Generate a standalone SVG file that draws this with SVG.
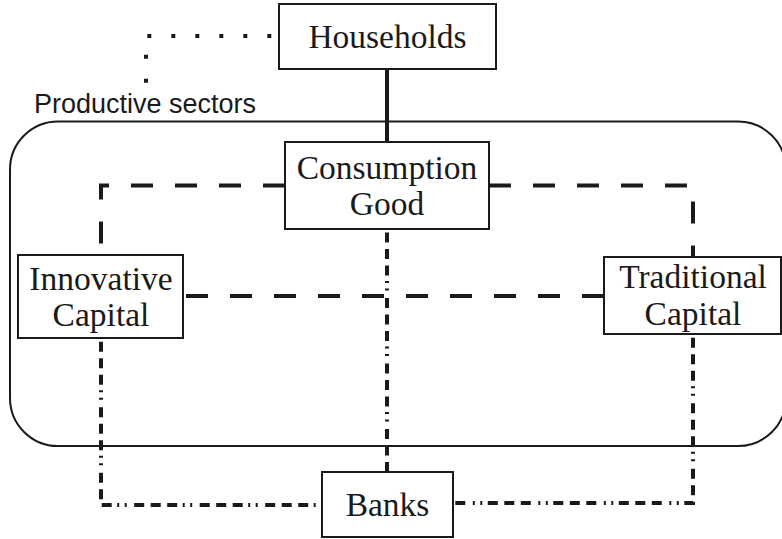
<svg xmlns="http://www.w3.org/2000/svg" width="782" height="539" viewBox="0 0 782 539">
  <style>
    .box { fill: #ffffff; stroke: #1a1a1a; stroke-width: 2; }
    .lbl { font-family: "Liberation Serif", "Times New Roman", serif; font-size: 33.5px; fill: #1a1a1a; text-anchor: middle; }
    .sector { font-family: "Liberation Sans", Arial, sans-serif; font-size: 27px; fill: #1a1a1a; }
    .solid { fill: none; stroke: #1a1a1a; stroke-width: 4; }
    .dash { fill: none; stroke: #1a1a1a; stroke-width: 4; stroke-dasharray: 22 22; }
    .dashdot { fill: none; stroke: #1a1a1a; stroke-width: 4; stroke-dasharray: 10 6.5 10 6.5 10 5.5 2 5.5 2 7.5; }
    .dot { fill: none; stroke: #1a1a1a; stroke-width: 4; stroke-dasharray: 4 20; }
  </style>
  <rect width="782" height="539" fill="#ffffff"/>

  <g id="productive-sectors">
    <rect x="10" y="121.5" width="776" height="324.5" rx="48" ry="48" fill="#ffffff" stroke="#1a1a1a" stroke-width="2"/>
    <text class="sector" x="34" y="113">Productive sectors</text>
  </g>

  <g id="connectors">
    <path class="dot" d="M271.3 36 H146 V84"/>
    <path class="solid" d="M387 69 V142"/>
    <path class="dash" d="M285 185.5 H101 V255"/>
    <path class="dash" d="M489 185.5 H693 V257"/>
    <path class="dash" d="M604 296 H183"/>
    <path class="dashdot" d="M387 229 V472" stroke-dashoffset="62"/>
    <path class="dashdot" d="M101 338 V505 H322" stroke-dashoffset="61.8"/>
    <path class="dashdot" d="M693 334 V503 H453" stroke-dashoffset="61.8"/>
  </g>

  <g id="households">
    <rect class="box" x="279" y="4" width="217" height="65"/>
    <text class="lbl" x="387.5" y="48">Households</text>
  </g>

  <g id="consumption-good">
    <rect class="box" x="285" y="142" width="204" height="87"/>
    <text class="lbl" x="387" y="179">Consumption</text>
    <text class="lbl" x="387" y="214.5">Good</text>
  </g>

  <g id="innovative-capital">
    <rect class="box" x="18" y="255" width="165" height="83"/>
    <text class="lbl" x="101" y="290">Innovative</text>
    <text class="lbl" x="101" y="326">Capital</text>
  </g>

  <g id="traditional-capital">
    <rect class="box" x="604" y="257" width="177" height="77"/>
    <text class="lbl" x="693" y="288">Traditional</text>
    <text class="lbl" x="693" y="325">Capital</text>
  </g>

  <g id="banks">
    <rect class="box" x="322" y="472" width="131" height="65"/>
    <text class="lbl" x="387.5" y="516">Banks</text>
  </g>
</svg>
